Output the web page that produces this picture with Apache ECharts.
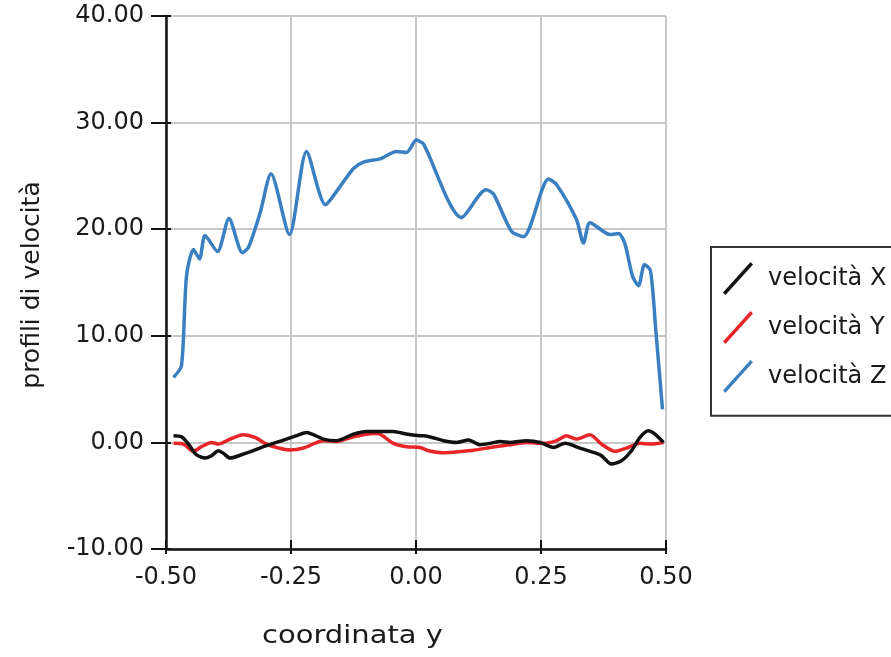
<!DOCTYPE html>
<html><head><meta charset="utf-8">
<script src="https://cdn.jsdelivr.net/npm/echarts@6/dist/echarts.min.js"></script>
<style>html,body{margin:0;padding:0;background:#fff}#c{width:891px;height:657px}</style>
</head><body><div id="c"></div>
<script>
var seriesNames = ['velocità X', 'velocità Y', 'velocità Z'];
var colors = ['#111111', '#e8262a', '#3a80c0'];
var velX = [[-0.485,0.63],[-0.469,0.53],[-0.455,-0.16],[-0.439,-1.16],[-0.422,-1.47],[-0.409,-1.25],[-0.395,-0.78],[-0.385,-1.03],[-0.372,-1.47],[-0.345,-1.09],[-0.299,-0.31],[-0.265,0.22],[-0.239,0.63],[-0.219,0.94],[-0.185,0.31],[-0.159,0.16],[-0.125,0.78],[-0.099,1.03],[-0.045,1.03],[-0.019,0.78],[0.008,0.63],[0.015,0.63],[0.055,0.16],[0.081,0],[0.105,0.22],[0.128,-0.22],[0.148,-0.09],[0.168,0.09],[0.188,0],[0.221,0.16],[0.248,0],[0.275,-0.47],[0.298,-0.09],[0.328,-0.53],[0.361,-1.03],[0.371,-1.25],[0.391,-2.03],[0.411,-1.72],[0.431,-0.78],[0.448,0.47],[0.465,1.09],[0.478,0.78],[0.495,0]];
var velY = [[-0.485,-0.09],[-0.465,-0.16],[-0.445,-0.84],[-0.429,-0.4],[-0.409,0],[-0.395,-0.16],[-0.372,0.31],[-0.345,0.72],[-0.322,0.47],[-0.299,-0.16],[-0.275,-0.53],[-0.252,-0.72],[-0.225,-0.53],[-0.185,0.16],[-0.159,0.09],[-0.125,0.53],[-0.085,0.84],[-0.072,0.78],[-0.045,-0.09],[-0.019,-0.4],[0.008,-0.47],[0.025,-0.78],[0.055,-0.97],[0.085,-0.88],[0.118,-0.72],[0.148,-0.47],[0.188,-0.22],[0.221,0],[0.255,-0.09],[0.281,0.16],[0.301,0.63],[0.321,0.31],[0.348,0.72],[0.371,-0.16],[0.398,-0.84],[0.421,-0.53],[0.448,-0.09],[0.468,-0.16],[0.495,0]];
var velZ = [[-0.485,6.1],[-0.469,7.2],[-0.459,15.6],[-0.445,18.1],[-0.433,17.2],[-0.422,19.4],[-0.397,17.9],[-0.374,21.0],[-0.347,17.8],[-0.335,18.3],[-0.312,21.5],[-0.29,25.2],[-0.253,19.5],[-0.219,27.3],[-0.181,22.3],[-0.152,24.0],[-0.125,25.7],[-0.105,26.3],[-0.072,26.6],[-0.039,27.3],[-0.019,27.2],[0.001,28.4],[0.0046,28.3],[0.015,28.0],[0.091,21.1],[0.14,23.7],[0.155,23.3],[0.191,19.8],[0.215,19.3],[0.265,24.7],[0.281,24.2],[0.321,20.9],[0.335,18.7],[0.348,20.6],[0.388,19.5],[0.405,19.6],[0.418,18.6],[0.433,15.6],[0.445,14.7],[0.457,16.7],[0.469,16.1],[0.48,10.3],[0.493,3.1]];
var xTicks = {min:-0.5, max:0.5, interval:0.25};
var yTicks = {min:-10, max:40, interval:10};
var xName = 'coordinata y';
var yName = 'profili di velocità';

var chart = echarts.init(document.getElementById('c'), null, {renderer:'canvas'});
var FONT = 'DejaVu Sans, sans-serif';
var lab = {color:'#1a1a1a', fontSize:24, fontFamily:FONT};
var fmt = function(v){return v.toFixed(2);};
var data = [velX, velY, velZ];
var icon = 'path://M0,31 L28,0 L30.5,2.5 L2.5,33.5 Z';
var baseAxis = function(t){ return {type:'value', min:t.min, max:t.max, interval:t.interval}; };
chart.setOption({
  animation:false,
  backgroundColor:'#fff',
  grid:{left:166, right:225, top:16, bottom:108, containLabel:false},
  xAxis:[
    Object.assign(baseAxis(xTicks), {
      axisLine:{show:true, onZero:false, lineStyle:{color:'#111', width:2.5}},
      axisTick:{show:true, length:5, lineStyle:{color:'#111', width:2}},
      axisLabel:Object.assign({margin:17, formatter:fmt}, lab),
      splitLine:{show:true, lineStyle:{color:'#c8c8c8', width:2}}}),
    Object.assign(baseAxis(xTicks), {position:'bottom',
      axisLine:{show:false, onZero:false}, axisLabel:{show:false}, splitLine:{show:false},
      axisTick:{show:true, inside:true, length:9, lineStyle:{color:'#111', width:2}}})
  ],
  yAxis:[
    Object.assign(baseAxis(yTicks), {
      axisLine:{show:true, onZero:false, lineStyle:{color:'#111', width:2.5}},
      axisTick:{show:true, length:15, lineStyle:{color:'#111', width:2}},
      axisLabel:Object.assign({margin:22, formatter:fmt}, lab),
      splitLine:{show:true, lineStyle:{color:'#c8c8c8', width:2}}}),
    Object.assign(baseAxis(yTicks), {position:'left',
      axisLine:{show:false, onZero:false}, axisLabel:{show:false}, splitLine:{show:false},
      axisTick:{show:true, inside:true, length:5, lineStyle:{color:'#111', width:2}}})
  ],
  legend:{orient:'vertical', left:711, top:247,
    data:seriesNames.map(function(n,i){return {name:n, icon:icon, itemStyle:{color:colors[i]}};}),
    itemWidth:30, itemHeight:34, itemGap:16,
    padding:[15,120,23,12], borderColor:'#333', borderWidth:2, borderRadius:0,
    textStyle:{color:'#1a1a1a', fontSize:24, fontFamily:FONT, padding:[0,0,0,10]}},
  graphic:[
    {type:'text', x:262, y:636, scaleX:1.16, style:{text:xName, fontSize:25, fill:'#1a1a1a', fontFamily:FONT, verticalAlign:'middle'}},
    {type:'text', x:32, y:285, rotation:Math.PI/2, style:{text:yName, fontSize:25, fill:'#1a1a1a', fontFamily:FONT, align:'center', verticalAlign:'middle'}}
  ],
  series:data.map(function(d,i){return {name:seriesNames[i], type:'line', data:d, smooth:0.25, symbol:'none', lineStyle:{color:colors[i], width:3.5}, itemStyle:{color:colors[i]}, z:(i==2?8:3-i)};})
});
</script></body></html>
